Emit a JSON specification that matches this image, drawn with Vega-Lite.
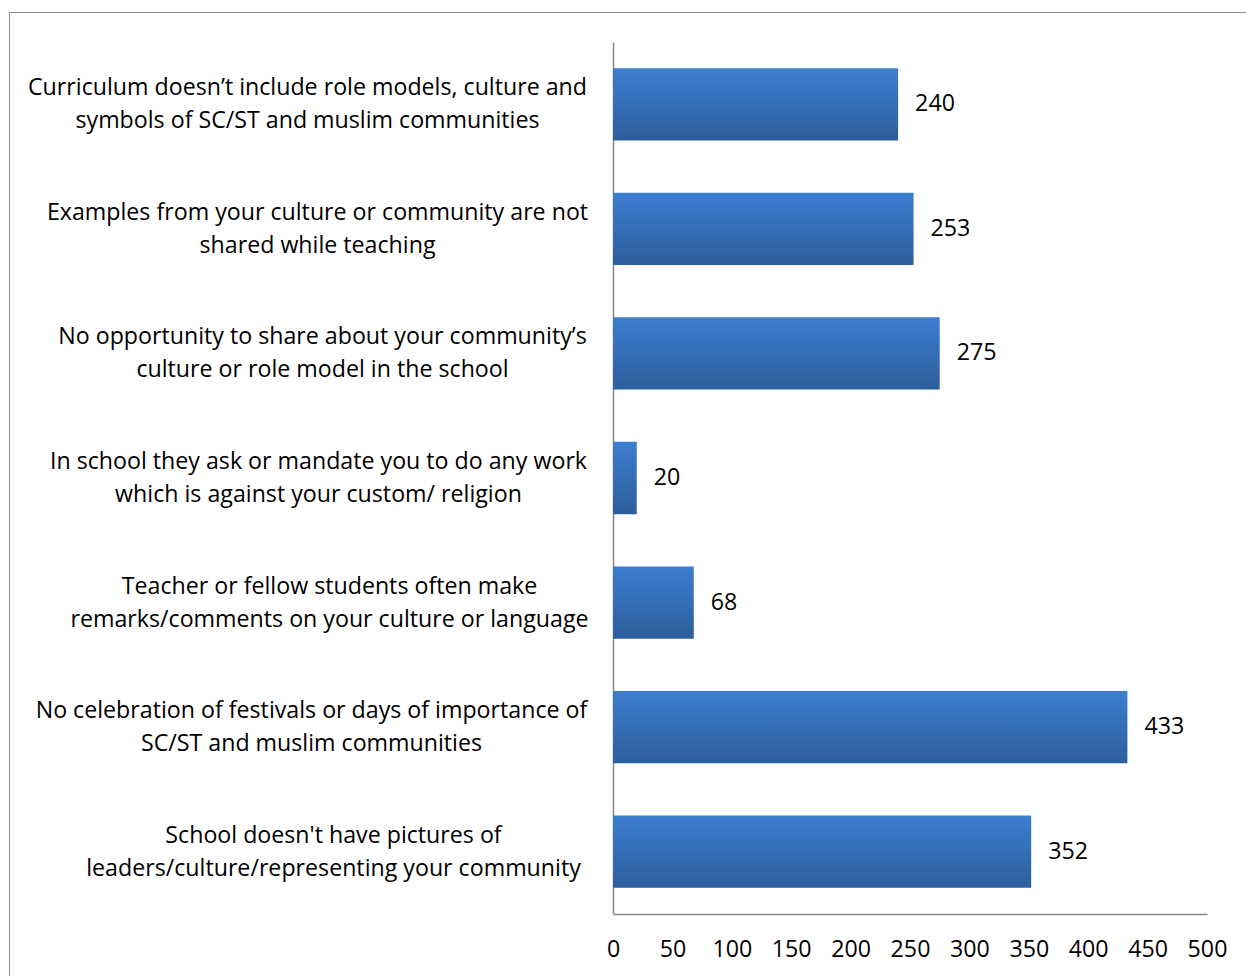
{
  "$schema": "https://vega.github.io/schema/vega-lite/v6.json",
  "autosize": "none",
  "width": 594,
  "height": 872,
  "padding": {"left": 613, "top": 42, "right": 39, "bottom": 62},
  "background": "white",
  "config": {"view": {"stroke": null}, "font": "Open Sans"},
  "data": {
    "values": [
      {"item": "Curriculum doesn’t include role models, culture and|symbols of SC/ST and muslim communities", "count": 240},
      {"item": "Examples from your culture or community are not|shared while teaching", "count": 253},
      {"item": "No opportunity to share about your community’s|culture or  role model in the school", "count": 275},
      {"item": "In school they ask or mandate you to do any work|which is against your custom/ religion", "count": 20},
      {"item": "Teacher or fellow students often make|remarks/comments on your culture or language", "count": 68},
      {"item": "No celebration of festivals or days of importance of|SC/ST and muslim communities", "count": 433},
      {"item": "School doesn't have pictures of|leaders/culture/representing your community", "count": 352}
    ]
  },
  "encoding": {
    "y": {
      "field": "item",
      "type": "nominal",
      "sort": null,
      "scale": {"paddingInner": 0.42, "paddingOuter": 0.21},
      "axis": {
        "title": null,
        "ticks": false,
        "labelExpr": "split(datum.label, '|')",
        "labelLineHeight": 33,
        "labelFontSize": 23.2,
        "labelColor": "#000000",
        "labelAlign": "center",
        "labelPadding": {
          "condition": [
            {"test": "indexof(datum.value, 'Curriculum') == 0", "value": 306},
            {"test": "indexof(datum.value, 'Examples') == 0", "value": 296},
            {"test": "indexof(datum.value, 'No opportunity') == 0", "value": 291},
            {"test": "indexof(datum.value, 'In school') == 0", "value": 295},
            {"test": "indexof(datum.value, 'Teacher') == 0", "value": 284},
            {"test": "indexof(datum.value, 'No celebration') == 0", "value": 302}
          ],
          "value": 280
        },
        "labelOffset": -16,
        "labelLimit": 700,
        "domainColor": "#888888",
        "domainWidth": 1.5
      }
    },
    "x": {
      "field": "count",
      "type": "quantitative",
      "scale": {"domain": [0, 500], "nice": false},
      "axis": {
        "title": null,
        "ticks": false,
        "grid": false,
        "values": [0, 50, 100, 150, 200, 250, 300, 350, 400, 450, 500],
        "labelFontSize": 23.2,
        "labelColor": "#000000",
        "labelPadding": 24,
        "labelFlush": false,
        "labelOverlap": false,
        "domainColor": "#888888",
        "domainWidth": 1.5
      }
    }
  },
  "layer": [
    {
      "mark": {
        "type": "bar",
        "color": {
          "gradient": "linear",
          "x1": 0, "y1": 0, "x2": 0, "y2": 1,
          "stops": [
            {"offset": 0, "color": "#3C7ED0"},
            {"offset": 1, "color": "#2D5E9C"}
          ]
        }
      }
    },
    {
      "mark": {"type": "text", "align": "left", "baseline": "middle", "dx": 17, "fontSize": 23.2},
      "encoding": {
        "text": {"field": "count", "type": "quantitative"},
        "color": {
          "datum": "frame",
          "scale": {"range": ["#000000"]},
          "legend": {
            "orient": "none",
            "legendX": -604,
            "legendY": -30,
            "padding": 620,
            "strokeColor": "#8c8c8c",
            "title": null,
            "labelOpacity": 0,
            "symbolOpacity": 0,
            "symbolStrokeWidth": 0
          }
        }
      }
    }
  ]
}
